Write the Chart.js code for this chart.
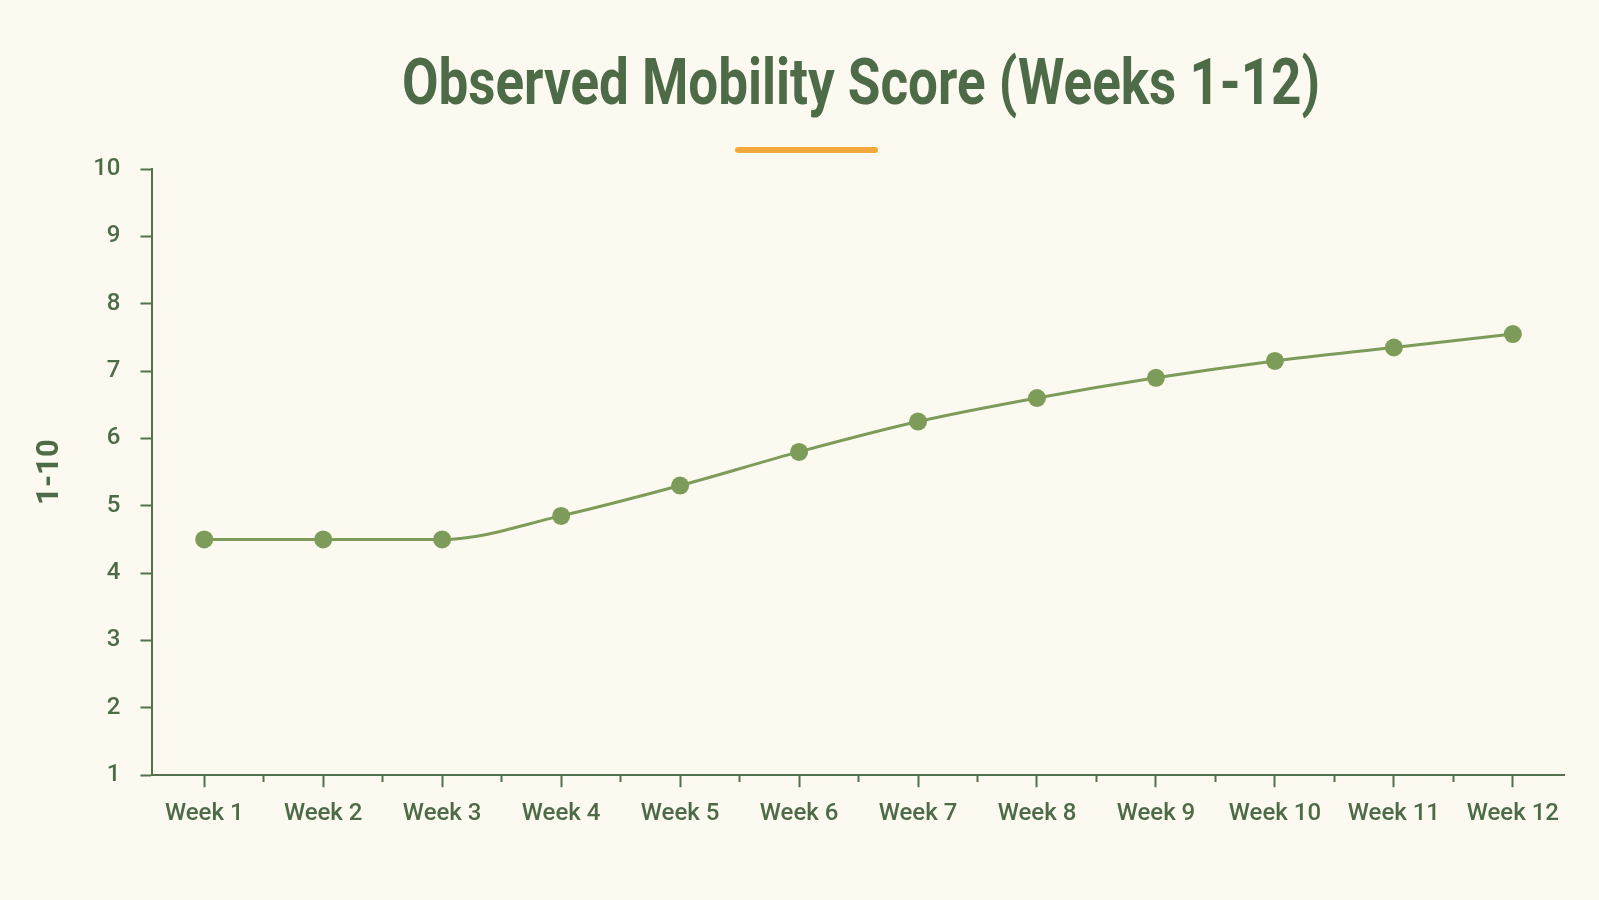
<!DOCTYPE html>
<html>
<head>
<meta charset="utf-8">
<title>Observed Mobility Score</title>
<script src="https://cdn.jsdelivr.net/npm/chart.js@4.4.0/dist/chart.umd.min.js"></script>
<style>
  html, body { margin: 0; padding: 0; background: #fcf9f1; }
  #wrap { position: relative; width: 1599px; height: 900px; overflow: hidden; }
  #title {
    position: absolute; left: 861px; top: 50px; margin: 0;
    transform: translateX(-50%) scaleX(0.815);
    white-space: nowrap; line-height: 1;
    font-family: Roboto, sans-serif;
    font-weight: 700; font-size: 65px; color: #4d6b47;
  }
  #accent {
    position: absolute; left: 735px; top: 147px; width: 143px; height: 6px;
    border-radius: 3px; background: #f2a93b;
  }
  #chart { position: absolute; left: 0; top: 0; }
</style>
</head>
<body>
<div id="wrap">
  <canvas id="chart" width="1599" height="900"></canvas>
  <h1 id="title">Observed Mobility Score (Weeks 1-12)</h1>
  <div id="accent"></div>
</div>
<script>
// data
const weekLabels = ["Week 1", "Week 2", "Week 3", "Week 4", "Week 5", "Week 6",
                    "Week 7", "Week 8", "Week 9", "Week 10", "Week 11", "Week 12"];
const mobilityScores = [4.5, 4.5, 4.5, 4.85, 5.3, 5.8, 6.25, 6.6, 6.9, 7.15, 7.35, 7.55];
const yTicks = [1, 2, 3, 4, 5, 6, 7, 8, 9, 10];

const textGreen = "#4d6b47";
const axisGreen = "#52714c";
const lineGreen = "#7d9c5a";
const tickFont = { family: "Roboto, sans-serif", size: 24, weight: "500" };

const ctx = document.getElementById("chart").getContext("2d");

const chart = new Chart(ctx, {
  type: "line",
  data: {
    datasets: [
      {
        label: "Mobility score",
        data: mobilityScores.map((v, i) => ({ x: i + 1, y: v })),
        borderColor: lineGreen,
        backgroundColor: lineGreen,
        borderWidth: 3,
        pointRadius: 9,
        pointHoverRadius: 9.5,
        pointBorderWidth: 0,
        cubicInterpolationMode: "monotone",
        fill: false,
      },
    ],
  },
  options: {
    responsive: false,
    animation: false,
    layout: { padding: { top: 169, left: 32, right: 35, bottom: 60 } },
    plugins: {
      legend: { display: false },
      tooltip: { enabled: false },
    },
    scales: {
      x: {
        type: "linear",
        min: 0.565,
        max: 12.43,
        border: { display: true, color: axisGreen, width: 2 },
        grid: {
          drawOnChartArea: false,
          tickLength: 12,
          tickColor: axisGreen,
          tickWidth: 2,
          // half-week ticks are shorter
          tickBorderDash: (c) => (c.tick && !Number.isInteger(c.tick.value) ? [6, 40] : []),
        },
        ticks: {
          stepSize: 0.5,
          includeBounds: false,
          autoSkip: false,
          maxTicksLimit: 50,
          maxRotation: 0,
          padding: 12,
          color: textGreen,
          font: tickFont,
          callback: (v) => (Number.isInteger(v) ? weekLabels[v - 1] : ""),
        },
      },
      y: {
        min: yTicks[0],
        max: yTicks[yTicks.length - 1],
        border: { display: true, color: axisGreen, width: 2 },
        grid: {
          drawOnChartArea: false,
          tickLength: 12,
          tickColor: axisGreen,
          tickWidth: 2,
        },
        ticks: {
          stepSize: 1,
          padding: 20,
          color: textGreen,
          font: tickFont,
        },
        title: {
          display: true,
          text: "1-10",
          color: textGreen,
          font: { family: "Roboto, sans-serif", size: 31, weight: "bold" },
          padding: { top: 0, bottom: 4 },
        },
      },
    },
  },
});
</script>
</body>
</html>
